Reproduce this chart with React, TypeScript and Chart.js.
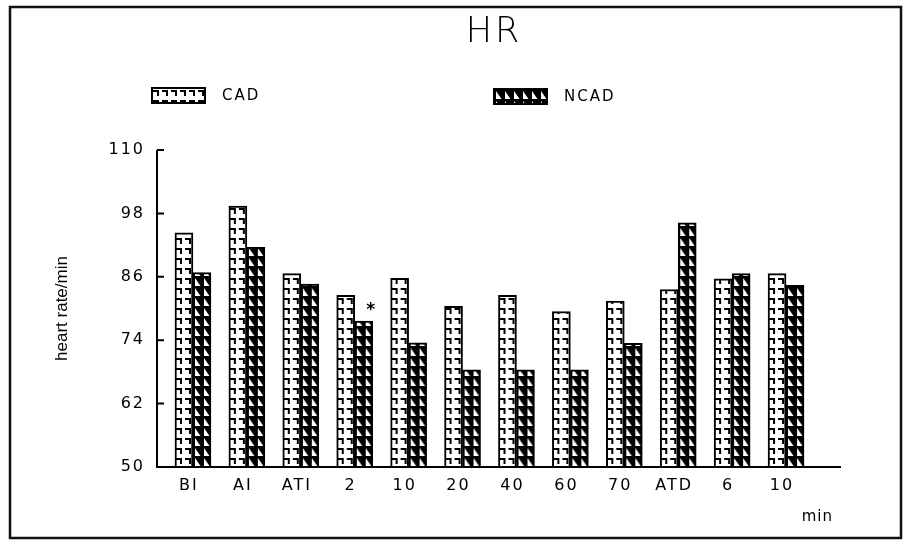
import React, { useEffect, useRef } from "react";
import { Chart, registerables } from "chart.js";

Chart.register(...registerables);

// ---- data ----
const categories = ["BI", "AI", "ATI", "2", "10", "20", "40", "60", "70", "ATD", "6", "10"];
const cadValues = [94.3, 99.4, 86.6, 82.5, 85.7, 80.4, 82.5, 79.4, 81.4, 83.6, 85.6, 86.6];
const ncadValues = [86.8, 91.6, 84.6, 77.6, 73.5, 68.4, 68.4, 68.4, 73.4, 96.2, 86.6, 84.4];
const seriesNames = ["CAD", "NCAD"];
const yMin = 50;
const yMax = 110;
const yStep = 12;
const significantIndex = 3; // "*" over NCAD at 2 min
const chartTitle = "HR";
const yAxisTitle = "heart rate/min";
const xUnit = "min";

const BAR_W = 18;
const TICK_FONT = "'DejaVu Sans', sans-serif";

function makeTile(kind: "cad" | "ncad"): HTMLCanvasElement {
  const c = document.createElement("canvas");
  c.width = 9;
  c.height = 10;
  const g = c.getContext("2d") as CanvasRenderingContext2D;
  if (kind === "cad") {
    g.fillStyle = "#fff";
    g.fillRect(0, 0, 9, 10);
    g.fillStyle = "#000";
    g.fillRect(1, 1, 6, 2);
    g.fillRect(5, 1, 2, 6);
  } else {
    g.fillStyle = "#000";
    g.fillRect(0, 0, 9, 10);
    g.fillStyle = "#fff";
    g.beginPath();
    g.moveTo(2, 1);
    g.lineTo(2, 9);
    g.lineTo(7.5, 9);
    g.closePath();
    g.fill();
  }
  return c;
}

function barPattern(tile: HTMLCanvasElement, dsIndex: number) {
  return (ctx: any) => {
    const chart = ctx.chart;
    const xs = chart.scales?.x;
    const ys = chart.scales?.y;
    const fallback = dsIndex === 0 ? "#fff" : "#000";
    if (!xs || !ys || ctx.dataIndex === undefined || !xs.width) return fallback;
    const pat = chart.ctx.createPattern(tile, "repeat");
    if (!pat) return fallback;
    const center = xs.getPixelForValue(ctx.dataIndex);
    const left = dsIndex === 0 ? center - BAR_W : center;
    pat.setTransform(new DOMMatrix().translate(left, ys.bottom));
    return pat;
  };
}

export default function App() {
  const ref = useRef<HTMLCanvasElement | null>(null);

  useEffect(() => {
    const canvas = ref.current;
    if (!canvas) return;
    const cadTile = makeTile("cad");
    const ncadTile = makeTile("ncad");
    const tiles = [cadTile, ncadTile];

    const decor = {
      id: "decor",
      beforeDraw(chart: any) {
        const c = chart.ctx as CanvasRenderingContext2D;
        c.save();
        c.fillStyle = "#fff";
        c.fillRect(0, 0, chart.width, chart.height);
        c.strokeStyle = "#111";
        c.lineWidth = 2.5;
        c.strokeRect(10, 7, 891, 531);
        c.restore();
        (c as any).letterSpacing = "2px";
      },
      afterDraw(chart: any) {
        const c = chart.ctx as CanvasRenderingContext2D;
        const ca = chart.chartArea;
        const ys = chart.scales.y;
        c.save();
        (c as any).letterSpacing = "0px";
        c.strokeStyle = "#000";
        c.fillStyle = "#000";
        // axes
        const ax = ca.left - 9;
        c.lineWidth = 2;
        c.beginPath();
        c.moveTo(ax, ys.top);
        c.lineTo(ax, ys.bottom);
        c.moveTo(ax - 1, ys.bottom);
        c.lineTo(ca.right + 28, ys.bottom);
        for (const t of ys.ticks) {
          const py = ys.getPixelForValue(t.value);
          c.moveTo(ax, py);
          c.lineTo(ax + 7, py);
        }
        c.stroke();

        // title
        c.font = "300 35px 'DejaVu Sans', sans-serif";
        (c as any).letterSpacing = "3px";
        c.textAlign = "center";
        c.textBaseline = "middle";
        c.fillText(chartTitle, 494, 33);

        // legend
        const sw = [
          { x: 152, y: 88 },
          { x: 494, y: 89 },
        ];
        chart.data.datasets.forEach((ds: any, i: number) => {
          const p = sw[i];
          const pat = c.createPattern(tiles[i], "repeat");
          if (pat) {
            pat.setTransform(new DOMMatrix().translate(p.x, p.y + 1));
            c.fillStyle = pat;
          }
          c.fillRect(p.x, p.y, 53, 15);
          c.lineWidth = 2;
          c.strokeRect(p.x, p.y, 53, 15);
          c.fillStyle = "#000";
          c.font = `15px ${TICK_FONT}`;
          (c as any).letterSpacing = "2px";
          c.textAlign = "left";
          c.textBaseline = "middle";
          c.fillText(ds.label, p.x + 70, p.y + 8);
        });

        // significance mark
        const bar = chart.getDatasetMeta(1).data[significantIndex];
        if (bar) {
          (c as any).letterSpacing = "0px";
          c.font = "bold 17px 'DejaVu Sans', sans-serif";
          c.textAlign = "center";
          c.textBaseline = "middle";
          c.fillText("*", bar.x + 7, bar.y - 11);
        }

        // unit
        (c as any).letterSpacing = "1px";
        c.font = `15px ${TICK_FONT}`;
        c.textAlign = "right";
        c.textBaseline = "middle";
        c.fillText(xUnit, ca.right + 20, ys.bottom + 50);

        // y title
        (c as any).letterSpacing = "0px";
        c.font = "17px 'Liberation Sans', Arial, sans-serif";
        c.translate(62, (ca.top + ca.bottom) / 2);
        c.rotate(-Math.PI / 2);
        c.textAlign = "center";
        c.textBaseline = "middle";
        c.fillText(yAxisTitle, 0, 0);
        c.restore();
      },
    };

    const chart = new Chart(canvas, {
      type: "bar",
      data: {
        labels: categories,
        datasets: [
          {
            label: seriesNames[0],
            data: cadValues,
            backgroundColor: barPattern(cadTile, 0) as any,
            borderColor: "#000",
            borderWidth: 2,
            borderSkipped: false,
            barThickness: BAR_W,
          },
          {
            label: seriesNames[1],
            data: ncadValues,
            backgroundColor: barPattern(ncadTile, 1) as any,
            borderColor: "#000",
            borderWidth: 2,
            borderSkipped: false,
            barThickness: BAR_W,
          },
        ],
      },
      options: {
        animation: false,
        responsive: false,
        events: [],
        layout: { padding: { left: 0, top: 150, right: 96, bottom: 44 } },
        plugins: {
          legend: { display: false },
          title: { display: false },
          tooltip: { enabled: false },
        },
        scales: {
          x: {
            grid: { display: false, drawTicks: false },
            border: { display: false },
            afterFit: (s: any) => {
              s.height = 30;
            },
            ticks: {
              autoSkip: false,
              maxRotation: 0,
              minRotation: 0,
              padding: 9,
              labelOffset: -4,
              color: "#000",
              font: { family: TICK_FONT, size: 16 },
            },
          },
          y: {
            min: yMin,
            max: yMax,
            grid: { display: false, drawTicks: false },
            border: { display: false },
            afterFit: (s: any) => {
              s.width = 166;
            },
            ticks: {
              stepSize: yStep,
              padding: 21,
              color: "#000",
              font: { family: TICK_FONT, size: 16 },
            },
          },
        },
      },
      plugins: [decor],
    });
    return () => chart.destroy();
  }, []);

  return (
    <div style={{ position: "fixed", left: 0, top: 0, width: 909, height: 541, background: "#fff" }}>
      <canvas ref={ref} width={909} height={541} style={{ display: "block", width: 909, height: 541 }} />
    </div>
  );
}
